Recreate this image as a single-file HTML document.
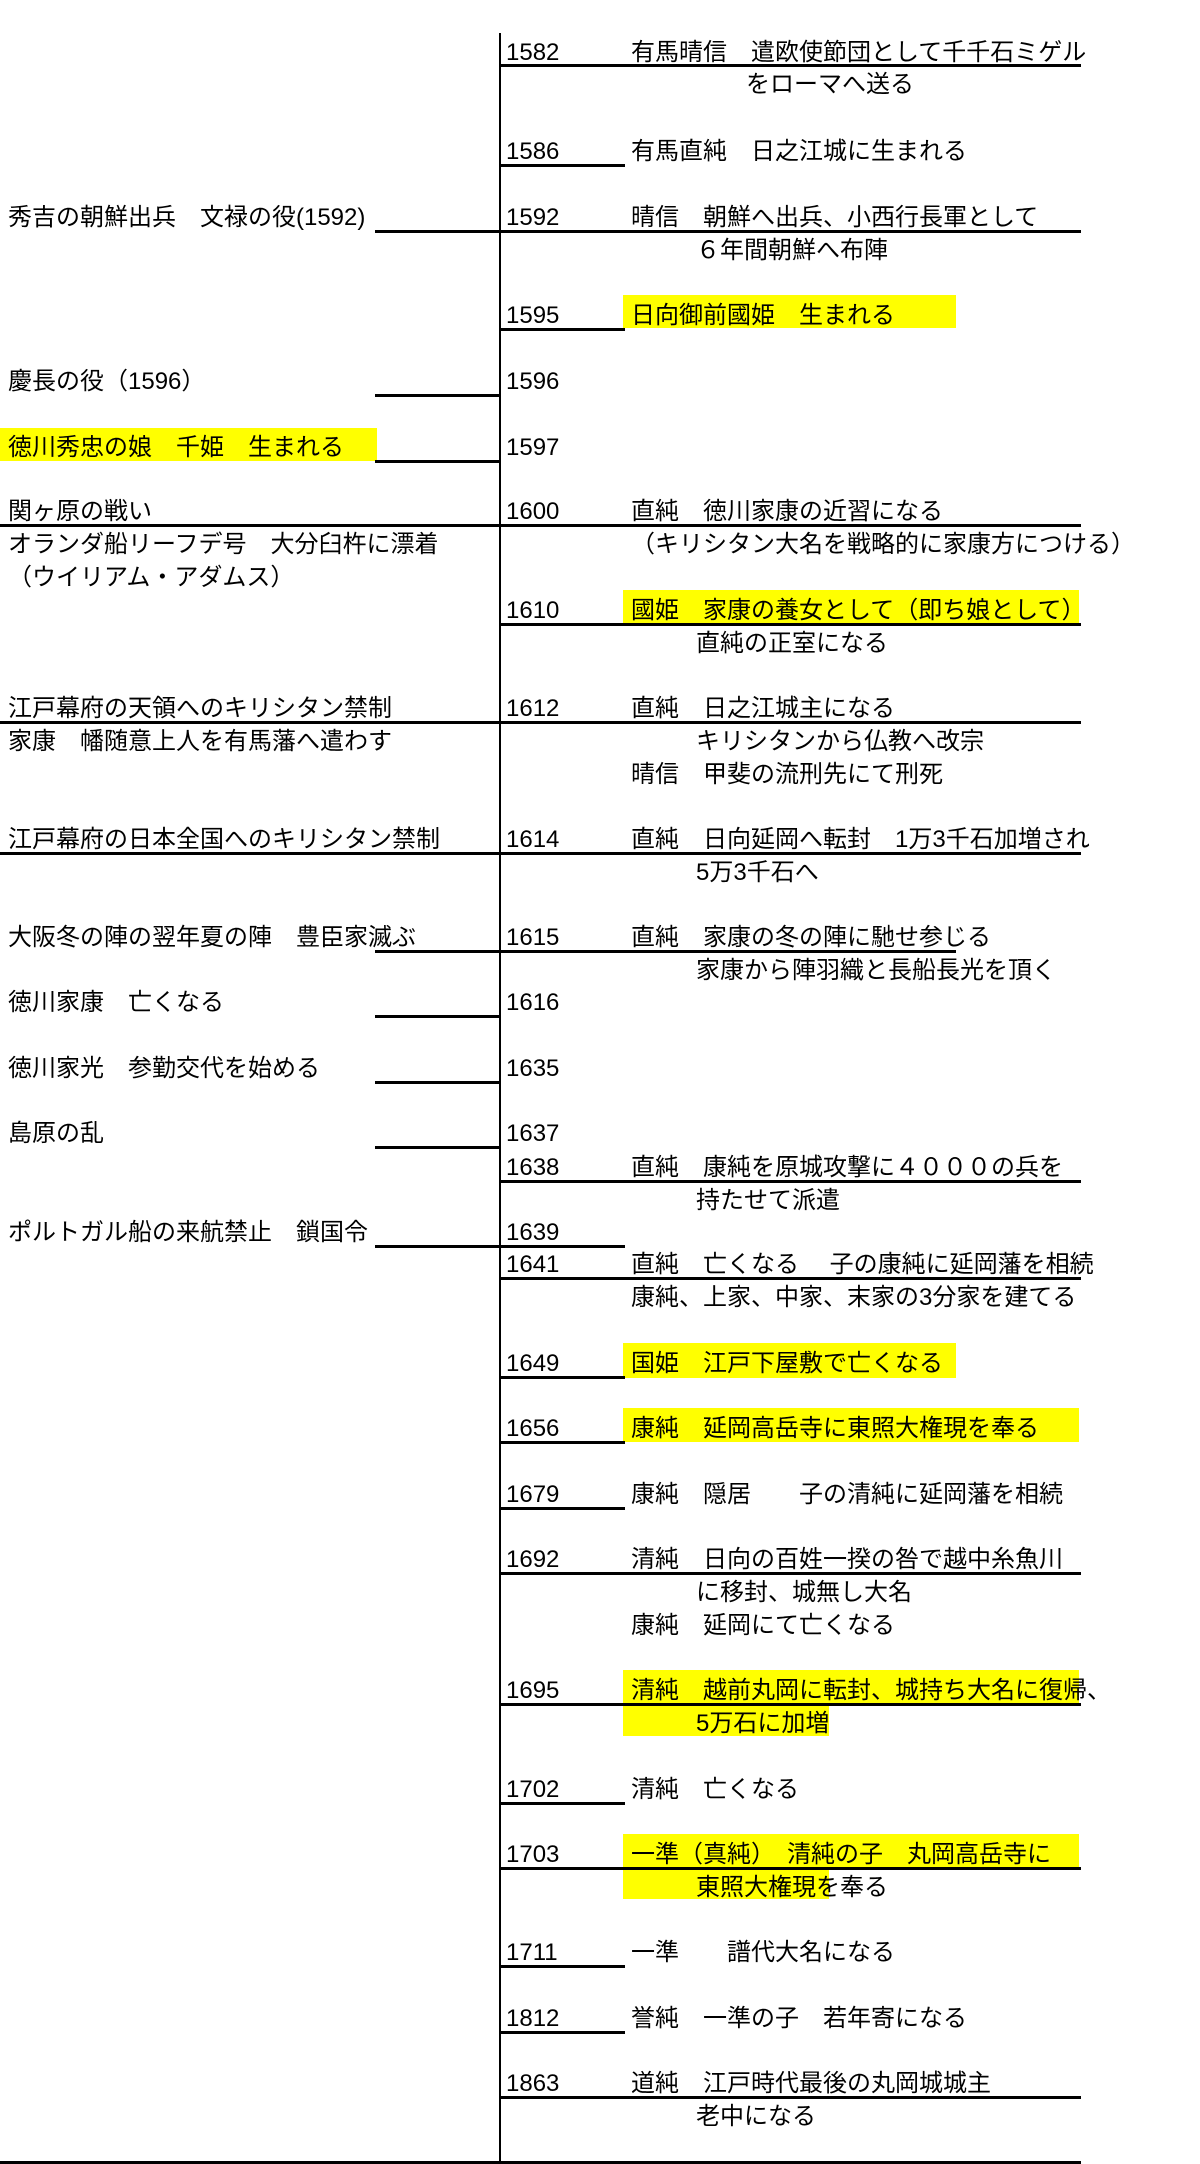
<!DOCTYPE html>
<html><head><meta charset="utf-8"><style>
html,body{margin:0;padding:0;background:#fff;}
body{width:1200px;height:2164px;position:relative;overflow:hidden;font-family:"Liberation Sans","Noto Sans CJK JP",sans-serif;font-size:24px;color:#000;}
.t{position:absolute;line-height:24px;white-space:nowrap;}
.y{position:absolute;background:#ffff00;}
.l{position:absolute;height:3px;background:#000;}
.v{position:absolute;left:499px;top:33px;width:2px;height:2131px;background:#000;}
</style></head><body>
<div class="y" style="left:623px;top:295px;width:333px;height:33px"></div>
<div class="y" style="left:0;top:428px;width:377px;height:33px"></div>
<div class="y" style="left:623px;top:590px;width:456px;height:34px"></div>
<div class="y" style="left:623px;top:1343px;width:333px;height:35px"></div>
<div class="y" style="left:623px;top:1408px;width:456px;height:34px"></div>
<div class="y" style="left:623px;top:1670px;width:456px;height:34px"></div>
<div class="y" style="left:623px;top:1703px;width:206px;height:33px"></div>
<div class="y" style="left:623px;top:1834px;width:456px;height:34px"></div>
<div class="y" style="left:623px;top:1868px;width:206px;height:31px"></div>

<div class="t" style="left:506px;top:41px">1582</div>
<div class="t" style="left:631px;top:41px">有馬晴信　遣欧使節団として千千石ミゲル</div>
<div class="t" style="left:746px;top:73px">をローマへ送る</div>
<div class="t" style="left:506px;top:140px">1586</div>
<div class="t" style="left:631px;top:140px">有馬直純　日之江城に生まれる</div>
<div class="t" style="left:8px;top:206px">秀吉の朝鮮出兵　文禄の役(1592)</div>
<div class="t" style="left:506px;top:206px">1592</div>
<div class="t" style="left:631px;top:206px">晴信　朝鮮へ出兵、小西行長軍として</div>
<div class="t" style="left:696px;top:239px">６年間朝鮮へ布陣</div>
<div class="t" style="left:506px;top:304px">1595</div>
<div class="t" style="left:631px;top:304px">日向御前國姫　生まれる</div>
<div class="t" style="left:8px;top:370px">慶長の役（1596）</div>
<div class="t" style="left:506px;top:370px">1596</div>
<div class="t" style="left:8px;top:436px">徳川秀忠の娘　千姫　生まれる</div>
<div class="t" style="left:506px;top:436px">1597</div>
<div class="t" style="left:8px;top:500px">関ヶ原の戦い</div>
<div class="t" style="left:506px;top:500px">1600</div>
<div class="t" style="left:631px;top:500px">直純　徳川家康の近習になる</div>
<div class="t" style="left:8px;top:533px">オランダ船リーフデ号　大分臼杵に漂着</div>
<div class="t" style="left:631px;top:533px">（キリシタン大名を戦略的に家康方につける）</div>
<div class="t" style="left:8px;top:566px">（ウイリアム・アダムス）</div>
<div class="t" style="left:506px;top:599px">1610</div>
<div class="t" style="left:631px;top:599px">國姫　家康の養女として（即ち娘として）</div>
<div class="t" style="left:696px;top:632px">直純の正室になる</div>
<div class="t" style="left:8px;top:697px">江戸幕府の天領へのキリシタン禁制</div>
<div class="t" style="left:506px;top:697px">1612</div>
<div class="t" style="left:631px;top:697px">直純　日之江城主になる</div>
<div class="t" style="left:8px;top:730px">家康　幡随意上人を有馬藩へ遣わす</div>
<div class="t" style="left:696px;top:730px">キリシタンから仏教へ改宗</div>
<div class="t" style="left:631px;top:763px">晴信　甲斐の流刑先にて刑死</div>
<div class="t" style="left:8px;top:828px">江戸幕府の日本全国へのキリシタン禁制</div>
<div class="t" style="left:506px;top:828px">1614</div>
<div class="t" style="left:631px;top:828px">直純　日向延岡へ転封　1万3千石加増され</div>
<div class="t" style="left:696px;top:861px">5万3千石へ</div>
<div class="t" style="left:8px;top:926px">大阪冬の陣の翌年夏の陣　豊臣家滅ぶ</div>
<div class="t" style="left:506px;top:926px">1615</div>
<div class="t" style="left:631px;top:926px">直純　家康の冬の陣に馳せ参じる</div>
<div class="t" style="left:696px;top:959px">家康から陣羽織と長船長光を頂く</div>
<div class="t" style="left:8px;top:991px">徳川家康　亡くなる</div>
<div class="t" style="left:506px;top:991px">1616</div>
<div class="t" style="left:8px;top:1057px">徳川家光　参勤交代を始める</div>
<div class="t" style="left:506px;top:1057px">1635</div>
<div class="t" style="left:8px;top:1122px">島原の乱</div>
<div class="t" style="left:506px;top:1122px">1637</div>
<div class="t" style="left:506px;top:1156px">1638</div>
<div class="t" style="left:631px;top:1156px">直純　康純を原城攻撃に４０００の兵を</div>
<div class="t" style="left:696px;top:1189px">持たせて派遣</div>
<div class="t" style="left:8px;top:1221px">ポルトガル船の来航禁止　鎖国令</div>
<div class="t" style="left:506px;top:1221px">1639</div>
<div class="t" style="left:506px;top:1253px">1641</div>
<div class="t" style="left:631px;top:1253px">直純　亡くなる　 子の康純に延岡藩を相続</div>
<div class="t" style="left:631px;top:1286px">康純、上家、中家、末家の3分家を建てる</div>
<div class="t" style="left:506px;top:1352px">1649</div>
<div class="t" style="left:631px;top:1352px">国姫　江戸下屋敷で亡くなる</div>
<div class="t" style="left:506px;top:1417px">1656</div>
<div class="t" style="left:631px;top:1417px">康純　延岡高岳寺に東照大権現を奉る</div>
<div class="t" style="left:506px;top:1483px">1679</div>
<div class="t" style="left:631px;top:1483px">康純　隠居　　子の清純に延岡藩を相続</div>
<div class="t" style="left:506px;top:1548px">1692</div>
<div class="t" style="left:631px;top:1548px">清純　日向の百姓一揆の咎で越中糸魚川</div>
<div class="t" style="left:696px;top:1581px">に移封、城無し大名</div>
<div class="t" style="left:631px;top:1614px">康純　延岡にて亡くなる</div>
<div class="t" style="left:506px;top:1679px">1695</div>
<div class="t" style="left:631px;top:1679px">清純　越前丸岡に転封、城持ち大名に復帰、</div>
<div class="t" style="left:696px;top:1712px">5万石に加増</div>
<div class="t" style="left:506px;top:1778px">1702</div>
<div class="t" style="left:631px;top:1778px">清純　亡くなる</div>
<div class="t" style="left:506px;top:1843px">1703</div>
<div class="t" style="left:631px;top:1843px">一準（真純）　清純の子　丸岡高岳寺に</div>
<div class="t" style="left:696px;top:1876px">東照大権現を奉る</div>
<div class="t" style="left:506px;top:1941px">1711</div>
<div class="t" style="left:631px;top:1941px">一準　　譜代大名になる</div>
<div class="t" style="left:506px;top:2007px">1812</div>
<div class="t" style="left:631px;top:2007px">誉純　一準の子　若年寄になる</div>
<div class="t" style="left:506px;top:2072px">1863</div>
<div class="t" style="left:631px;top:2072px">道純　江戸時代最後の丸岡城城主</div>
<div class="t" style="left:696px;top:2105px">老中になる</div>

<div class="v"></div>
<div class="l" style="top:64px;left:500px;width:581px"></div>
<div class="l" style="top:164px;left:500px;width:125px"></div>
<div class="l" style="top:230px;left:375px;width:706px"></div>
<div class="l" style="top:328px;left:500px;width:125px"></div>
<div class="l" style="top:394px;left:375px;width:125px"></div>
<div class="l" style="top:460px;left:375px;width:125px"></div>
<div class="l" style="top:524px;left:0;width:1081px"></div>
<div class="l" style="top:623px;left:500px;width:581px"></div>
<div class="l" style="top:721px;left:0;width:1081px"></div>
<div class="l" style="top:852px;left:0;width:1081px"></div>
<div class="l" style="top:950px;left:375px;width:581px"></div>
<div class="l" style="top:1015px;left:375px;width:125px"></div>
<div class="l" style="top:1081px;left:375px;width:125px"></div>
<div class="l" style="top:1146px;left:375px;width:125px"></div>
<div class="l" style="top:1180px;left:500px;width:581px"></div>
<div class="l" style="top:1245px;left:375px;width:250px"></div>
<div class="l" style="top:1277px;left:500px;width:581px"></div>
<div class="l" style="top:1376px;left:500px;width:125px"></div>
<div class="l" style="top:1441px;left:500px;width:125px"></div>
<div class="l" style="top:1507px;left:500px;width:125px"></div>
<div class="l" style="top:1572px;left:500px;width:581px"></div>
<div class="l" style="top:1703px;left:500px;width:581px"></div>
<div class="l" style="top:1802px;left:500px;width:125px"></div>
<div class="l" style="top:1867px;left:500px;width:581px"></div>
<div class="l" style="top:1965px;left:500px;width:125px"></div>
<div class="l" style="top:2031px;left:500px;width:125px"></div>
<div class="l" style="top:2096px;left:500px;width:581px"></div>
<div class="l" style="top:2161px;left:0;width:1081px"></div>
</body></html>
